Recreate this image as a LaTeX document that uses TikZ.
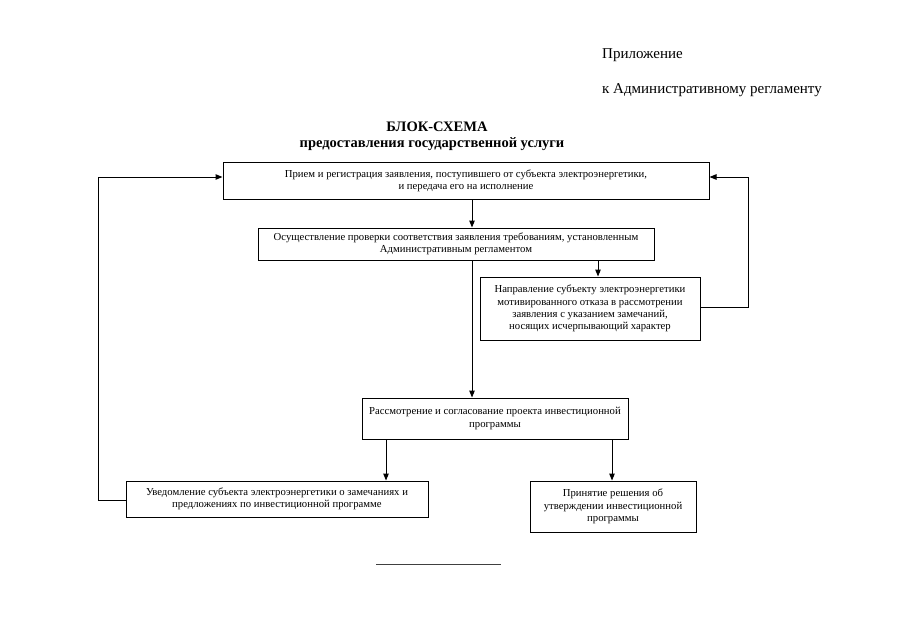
\documentclass[tikz,border=0pt]{standalone}
\usepackage{fontspec}
\setmainfont{Liberation Serif}
\usetikzlibrary{arrows.meta}
\tikzset{
  box/.style={draw=black, line width=1pt, align=center, inner sep=0pt, font=\fontsize{10.7}{12.2}\selectfont},
  conn/.style={draw=black, line width=1pt},
  arr/.style={conn, -{Triangle[length=7pt,width=5.5pt]}},
  hdr/.style={anchor=west, inner sep=0pt, font=\fontsize{15}{17}\selectfont},
  ttl/.style={inner sep=0pt, font=\bfseries\fontsize{14.5}{16}\selectfont}
}
\begin{document}
\begin{tikzpicture}[x=1pt, y=-1pt]
\useasboundingbox[fill=white] (0,0) rectangle (905,640);

\node[hdr] (h1) at (602,55) {Приложение};
\node[hdr] (h2) at (602,90) {к Административному регламенту};
\node[ttl] (t1) at (437,127) {БЛОК-СХЕМА};
\node[ttl] (t2) at (432,144) {предоставления государственной услуги};

\node[box, minimum width=486pt, minimum height=37pt] (b1) at (466,180.5)
  {Прием и регистрация заявления, поступившего от субъекта электроэнергетики,\\ и передача его на исполнение};
\node[box, minimum width=396pt, minimum height=32pt] (b2) at (456,244)
  {Осуществление проверки соответствия заявления требованиям, установленным\\ Административным регламентом};
\node[box, minimum width=220pt, minimum height=63pt] (b3) at (590,308.5)
  {Направление субъекту электроэнергетики\\ мотивированного отказа в рассмотрении\\ заявления с указанием замечаний,\\ носящих исчерпывающий характер};
\node[box, minimum width=266pt, minimum height=41pt] (b4) at (495,418.5)
  {Рассмотрение и согласование проекта инвестиционной\\ программы};
\node[box, minimum width=302pt, minimum height=36pt] (b5) at (277,499)
  {Уведомление субъекта электроэнергетики о замечаниях и\\ предложениях по инвестиционной программе};
\node[box, minimum width=166pt, minimum height=51pt] (b6) at (613,506.5)
  {Принятие решения об\\ утверждении инвестиционной\\ программы};

\coordinate (xa) at (472,0);
\coordinate (xb) at (598,0);
\coordinate (xc) at (386,0);
\coordinate (xd) at (612,0);
\coordinate (yr) at (0,177);
\coordinate (yl) at (0,500);
\coordinate (y3) at (0,307);
\coordinate (rr) at (748,0);
\coordinate (ll) at (98,0);

\draw[arr] (b1.south -| xa) -- (b2.north -| xa);
\draw[arr] (b2.south -| xb) -- (b3.north -| xb);
\draw[arr] (b2.south -| xa) -- (b4.north -| xa);
\draw[arr] (b4.south -| xc) -- (b5.north -| xc);
\draw[arr] (b4.south -| xd) -- (b6.north -| xd);
\draw[arr] (b3.east |- y3) -- (rr |- y3) -- (rr |- yr) -- (b1.east |- yr);
\draw[arr] (b5.west |- yl) -- (ll |- yl) -- (ll |- yr) -- (b1.west |- yr);

\coordinate (r1) at (376,564);
\coordinate (r2) at (501,564);
\draw[line width=0.9pt, black!75] (r1) -- (r2);
\end{tikzpicture}
\end{document}
